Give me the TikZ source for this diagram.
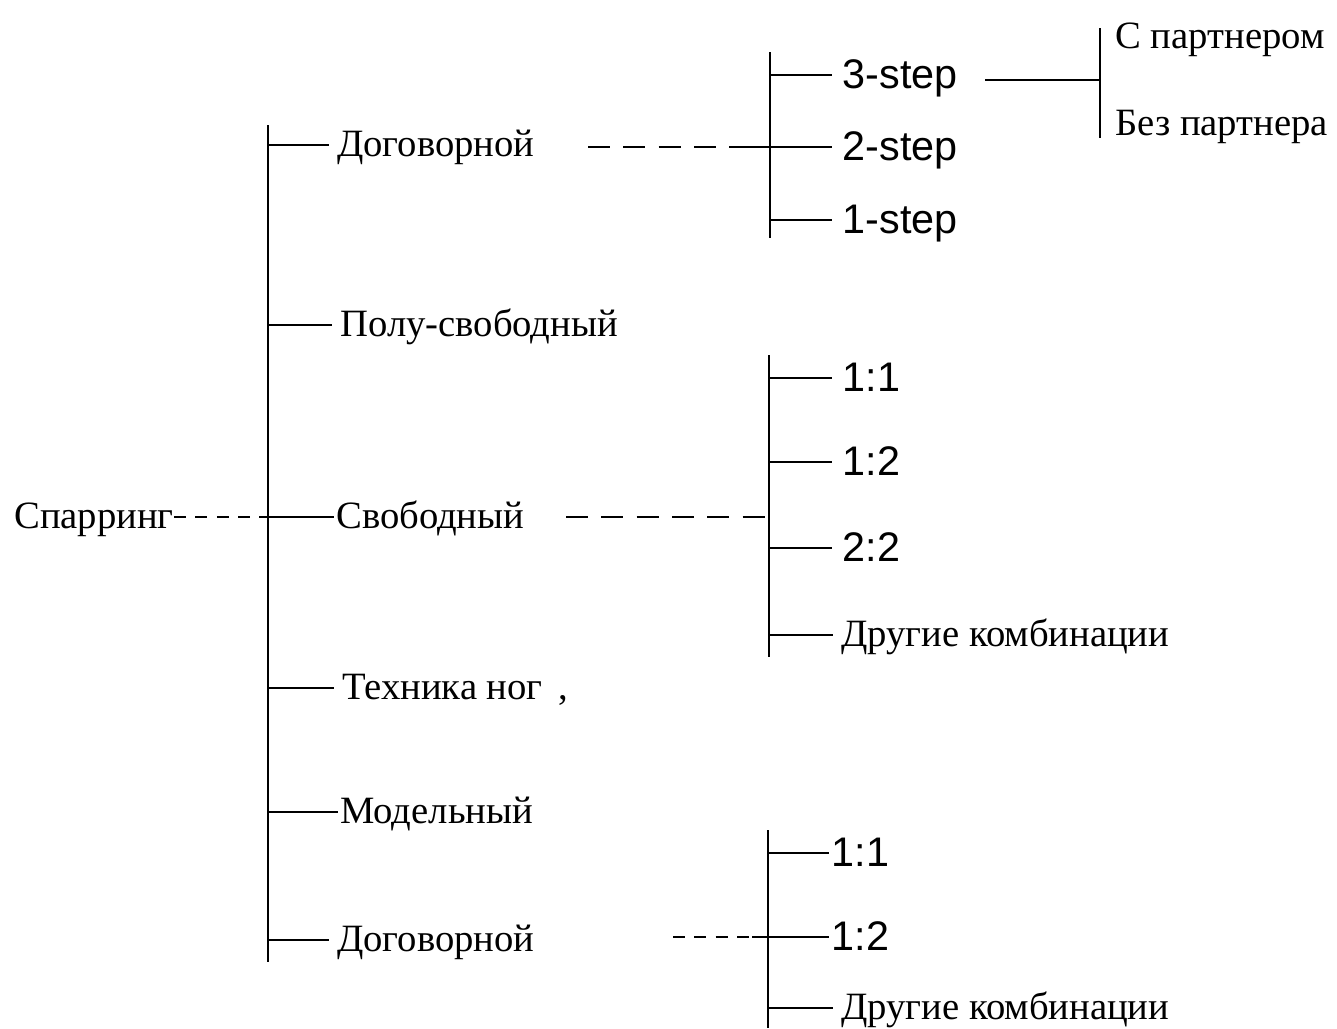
\documentclass[tikz,border=0pt]{standalone}
\usepackage{fontspec}
\setmainfont{Liberation Serif}
\newfontfamily\sansfam{Liberation Sans}
\begin{document}
\begin{tikzpicture}[x=0.75pt,y=-0.75pt]
\useasboundingbox (0,0) rectangle (1337,1028);
\tikzset{
 ser/.style={anchor=base west, inner xsep=6pt, inner ysep=0pt, font=\fontsize{29}{32}\selectfont},
 san/.style={anchor=base west, inner xsep=8pt, inner ysep=0pt, font=\sansfam\fontsize{31}{34}\selectfont},
 ln/.style={line width=2pt},
 dsh/.style={line width=2pt, dash pattern=on 16.5pt off 10pt},
 dshs/.style={line width=1.6pt, dash pattern=on 9pt off 7pt},
}
% main trunk
\coordinate (mT) at (268,125);
\coordinate (mB) at (268,962);
\coordinate (m1) at (268,145);
\coordinate (m2) at (268,325);
\coordinate (m3) at (268,517);
\coordinate (m4) at (268,688);
\coordinate (m5) at (268,812);
\coordinate (m6) at (268,940);
\draw[ln] (mT) -- (mB);

\node[ser, inner xsep=0pt] (spar) at (14,528) {Спарринг};
\node[ser] (dogA) at (329,156) {Договорной};
\node[ser] (polu) at (332,336) {Полу-свободный};
\node[ser, inner xsep=1.5pt] (svob) at (334,528) {Свободный};
\node[ser] (tech) at (334,699) {Техника ног\hspace{12pt},};
\node[ser, inner xsep=1.5pt] (model) at (338,823) {Модельный};
\node[ser] (dogB) at (329,951) {Договорной};

\draw[dshs] (spar.east |- m3) -- (m3);
\draw[ln] (m1) -- (dogA.west |- m1);
\draw[ln] (m2) -- (polu.west |- m2);
\draw[ln] (m3) -- (svob.west |- m3);
\draw[ln] (m4) -- (tech.west |- m4);
\draw[ln] (m5) -- (model.west |- m5);
\draw[ln] (m6) -- (dogB.west |- m6);

% sub-tree 1: steps
\coordinate (aT) at (770,52);
\coordinate (aB) at (770,238);
\coordinate (a1) at (770,75);
\coordinate (a2) at (770,147);
\coordinate (a3) at (770,220);
\coordinate (a2l) at (745,147);
\coordinate (d1) at (588,147);
\draw[ln] (aT) -- (aB);
\node[san] (st3) at (832,88) {3-step};
\node[san] (st2) at (832,160) {2-step};
\node[san] (st1) at (832,233) {1-step};
\draw[ln] (a1) -- (st3.west |- a1);
\draw[ln] (a2l) -- (st2.west |- a2);
\draw[ln] (a3) -- (st1.west |- a3);
\draw[dsh] (d1) -- (a2l);

% partner branch
\coordinate (r0) at (985,80);
\coordinate (rM) at (1100,80);
\coordinate (rT) at (1100,28);
\coordinate (rB) at (1100,138);
\draw[ln] (rT) -- (rB);
\draw[ln] (r0) -- (rM);
\node[ser, inner xsep=0pt] (wp) at (1115,48) {С партнером};
\node[ser, inner xsep=0pt] (np) at (1115,135) {Без партнера};

% sub-tree 2
\coordinate (bT) at (769,355);
\coordinate (bB) at (769,657);
\coordinate (b1) at (769,378);
\coordinate (b2) at (769,462);
\coordinate (b3) at (769,548);
\coordinate (b4) at (769,635);
\coordinate (d2) at (566,517);
\coordinate (b0) at (769,517);
\draw[ln] (bT) -- (bB);
\node[san] (p11) at (832,391) {1:1};
\node[san] (p12) at (832,475) {1:2};
\node[san] (p22) at (832,561) {2:2};
\node[ser] (oth1) at (833,646) {Другие комбинации};
\draw[ln] (b1) -- (p11.west |- b1);
\draw[ln] (b2) -- (p12.west |- b2);
\draw[ln] (b3) -- (p22.west |- b3);
\draw[ln] (b4) -- (oth1.west |- b4);
\draw[dsh] (d2) -- (b0);

% sub-tree 3
\coordinate (cT) at (768,830);
\coordinate (cB) at (768,1028);
\coordinate (c1) at (768,853);
\coordinate (c2) at (768,937);
\coordinate (c3) at (768,1008);
\coordinate (c2l) at (752,937);
\coordinate (d3) at (673,937);
\draw[ln] (cT) -- (cB);
\node[san, inner xsep=2pt] (q11) at (829,866) {1:1};
\node[san, inner xsep=2pt] (q12) at (829,950) {1:2};
\node[ser] (oth2) at (833,1019) {Другие комбинации};
\draw[ln] (c1) -- (q11.west |- c1);
\draw[ln] (c2l) -- (q12.west |- c2);
\draw[ln] (c3) -- (oth2.west |- c3);
\draw[dshs] (d3) -- (c2l);
\end{tikzpicture}
\end{document}
